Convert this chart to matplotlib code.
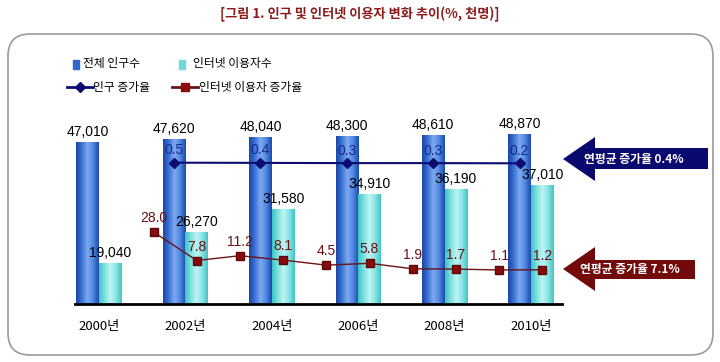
import numpy as np
import matplotlib
matplotlib.use("Agg")
import matplotlib.pyplot as plt
from matplotlib.colors import LinearSegmentedColormap
from matplotlib.patches import FancyBboxPatch, Polygon, Rectangle
from matplotlib.lines import Line2D
from matplotlib.transforms import IdentityTransform

plt.rcParams['font.family'] = ['Noto Sans CJK KR', 'DejaVu Sans']

years = [2000, 2002, 2004, 2006, 2008, 2010]
year_labels = ['2000년', '2002년', '2004년', '2006년', '2008년', '2010년']
population = [47010, 47620, 48040, 48300, 48610, 48870]
internet_users = [19040, 26270, 31580, 34910, 36190, 37010]
pop_growth_years = [2002, 2004, 2006, 2008, 2010]
pop_growth = [0.5, 0.4, 0.3, 0.3, 0.2]
net_growth_years = [2001, 2002, 2003, 2004, 2005, 2006, 2007, 2008, 2009, 2010]
net_growth = [28.0, 7.8, 11.2, 8.1, 4.5, 5.8, 1.9, 1.7, 1.1, 1.2]

W, H = 720, 362
fig = plt.figure(figsize=(W / 100, H / 100), dpi=100)
fig.patch.set_facecolor('white')


def px(x, y):
    # pixel from top-left -> display coords
    return (x, H - y)


# rounded frame
frame = FancyBboxPatch(px(8, 355), 705, 321, boxstyle="round,pad=0,rounding_size=22",
                       transform=IdentityTransform(), facecolor='none',
                       edgecolor='#9a9a9a', lw=1.2, zorder=-5)
fig.patches.append(frame)

fig.text(0.5, 1 - 14 / H, '[그림 1. 인구 및 인터넷 이용자 변화 추이(%, 천명)]',
         ha='center', va='center', fontsize=9.5, fontweight='bold', color='#8c1c1c')

ax = fig.add_axes([75 / W, (H - 303.5) / H, 487 / W, 217 / H])
ax.set_facecolor('none')
w = 0.525
yr = np.array(years, dtype=float)
b1 = ax.bar(yr - w / 2, population, w, color='#2f66cc', zorder=2)
b2 = ax.bar(yr + w / 2, internet_users, w, color='#6fdada', zorder=2)

blue_cm = LinearSegmentedColormap.from_list('b', ['#1a46a8', '#3a72d4', '#7eaaf0', '#5088e0', '#1a4aae'])
cyan_cm = LinearSegmentedColormap.from_list('c', ['#3cc4c4', '#7ee0e0', '#c0f4f4', '#8ae4e4', '#40c4c6'])
grad = np.linspace(0, 1, 64).reshape(1, -1)
for bars, cm in ((b1, blue_cm), (b2, cyan_cm)):
    for r in bars:
        x0, wd, ht = r.get_x(), r.get_width(), r.get_height()
        ax.imshow(grad, extent=[x0, x0 + wd, 0, ht], aspect='auto', cmap=cm, zorder=3,
                  interpolation='bicubic')

for r, v in zip(b1, population):
    ax.annotate(f'{v:,}', (r.get_x() + r.get_width() / 2, v), xytext=(0, 3),
                textcoords='offset points', ha='center', va='bottom',
                fontsize=10, family=['Liberation Sans'], color='black', zorder=6)
for r, v in zip(b2, internet_users):
    ax.annotate(f'{v:,}', (r.get_x() + r.get_width() / 2, v), xytext=(0, 3),
                textcoords='offset points', ha='center', va='bottom',
                fontsize=10, family=['Liberation Sans'], color='black', zorder=6)

ax.set_xlim(2000 - 24 / 43.2, 2010 + 31 / 43.2)
ax.set_ylim(10000, 60000)
ax.set_yticks([])
ax.set_xticks(years)
ax.set_xticklabels(year_labels, fontsize=9.5)
ax.tick_params(axis='x', length=0, pad=12)
for s in ['top', 'right', 'left']:
    ax.spines[s].set_visible(False)
ax.spines['bottom'].set_linewidth(2)
ax.spines['bottom'].set_zorder(5)

# internet growth line
ax2 = ax.twinx()
ax2.set_ylim(-32 / 1.41, (217 - 32) / 1.41)
ax2.axis('off')
nx = np.array(net_growth_years, dtype=float) + w / 2
ax2.plot(nx, net_growth, color='#6b1414', lw=1, marker='s', ms=6,
         mfc='#8b0a0a', mec='#5a0a0a', zorder=4)
for x, v in zip(nx, net_growth):
    ax2.annotate(f'{v:.1f}', (x, v), xytext=(0, 5), textcoords='offset points',
                 ha='center', va='bottom', fontsize=10, family=['Liberation Sans'],
                 color='#6b1010')

# population growth line
ax3 = ax.twinx()
ax3.set_ylim(0.35 - 0.6475 * 100, 0.35 + 0.3525 * 100)
ax3.axis('off')
gx = np.array(pop_growth_years, dtype=float) - w / 2
ax3.plot(gx, pop_growth, color='#0c0c70', lw=1.5, marker='D', ms=5,
         mfc='#0c0c70', mec='#0c0c70', zorder=4)
for x, v in zip(gx, pop_growth):
    ax3.annotate(f'{v:.1f}', (x, v), xytext=(0, 4), textcoords='offset points',
                 ha='center', va='bottom', fontsize=10, family=['Liberation Sans'],
                 color='#1a2a8c')

ax.set_xlim(2000 - 24 / 43.2, 2010 + 31 / 43.2)
ax2.set_xlim(ax.get_xlim())
ax3.set_xlim(ax.get_xlim())

# legend drawn by hand
tr = IdentityTransform()
fig.patches.append(Rectangle(px(72.5, 68.5), 6, 9, transform=tr, color='#2f66cc'))
fig.patches.append(Rectangle(px(179, 68.5), 6, 9, transform=tr, color='#6fdada'))
fig.text(83 / W, 1 - 64 / H, '전체 인구수', fontsize=8.5, va='center')
fig.text(193 / W, 1 - 64 / H, '인터넷 이용자수', fontsize=8.5, va='center')
fig.lines.append(Line2D([67, 93], [H - 87, H - 87], transform=tr, color='#0c0c70', lw=2))
fig.lines.append(Line2D([80], [H - 87], transform=tr, color='#0c0c70', marker='D', ms=5))
fig.lines.append(Line2D([172, 198], [H - 87, H - 87], transform=tr, color='#6b1414', lw=2))
fig.lines.append(Line2D([185], [H - 87], transform=tr, color='#8b0a0a', marker='s', ms=6))
fig.text(93 / W, 1 - 87 / H, '인구 증가율', fontsize=8.5, va='center')
fig.text(199 / W, 1 - 87 / H, '인터넷 이용자 증가율', fontsize=8.5, va='center')

# arrows with annual average labels
navy_arrow = [(563, 159), (595, 137), (595, 148), (708, 148), (708, 169), (595, 169), (595, 181)]
red_arrow = [(563, 269), (595, 247), (595, 260), (695, 260), (695, 279), (595, 279), (595, 291)]
fig.patches.append(Polygon([px(*p) for p in navy_arrow], closed=True, transform=tr,
                           facecolor='#0a0a6e', edgecolor='none'))
fig.patches.append(Polygon([px(*p) for p in red_arrow], closed=True, transform=tr,
                           facecolor='#720a0a', edgecolor='none'))
fig.text(634 / W, 1 - 159 / H, '연평균 증가율 0.4%', fontsize=8.5, fontweight='bold',
         color='white', ha='center', va='center')
fig.text(630 / W, 1 - 270 / H, '연평균 증가율 7.1%', fontsize=8.5, fontweight='bold',
         color='white', ha='center', va='center')

fig.savefig('out.png', dpi=100, facecolor='white')
